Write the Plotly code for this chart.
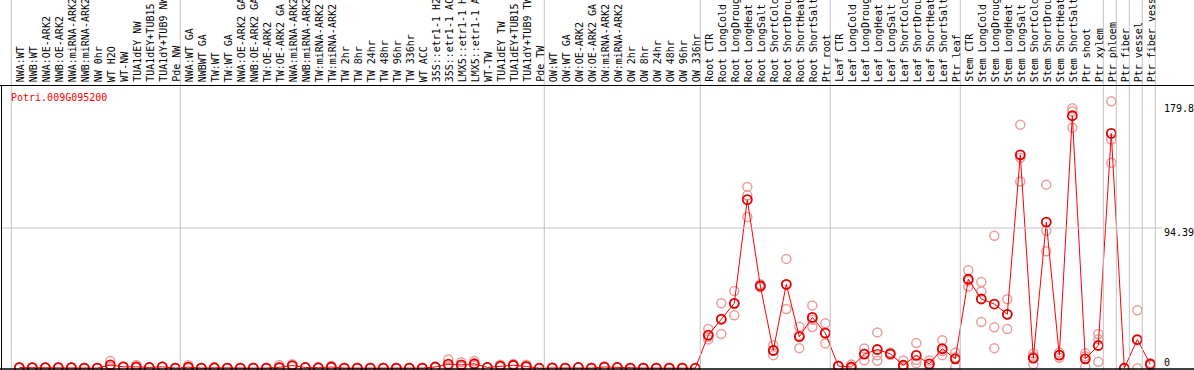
import plotly.graph_objects as go

W, H = 1194, 370

labels = [
    "NWA:WT", "NWB:WT", "NWA:OE-ARK2", "NWB:OE-ARK2", "NWA:miRNA-ARK2", "NWB:miRNA-ARK2",
    "NW 0hr", "WT H2O", "WT-NW", "TUA1dEY NW", "TUA1dEY+TUB15 NW", "TUA1dY+TUB9 NW", "Pde NW",
    "NWA:WT GA", "NWBWT GA", "TW:WT", "TW:WT GA", "NWA:OE-ARK2 GA", "NWB:OE-ARK2 GA",
    "TW:OE-ARK2", "TW:OE-ARK2 GA", "NWA:miRNA-ARK2 GA", "NWB:miRNA-ARK2 GA", "TW:miRNA-ARK2",
    "TW:miRNA-ARK2 GA", "TW 2hr", "TW 8hr", "TW 24hr", "TW 48hr", "TW 96hr", "TW 336hr",
    "WT ACC", "35S::etr1-1 H2O", "35S::etr1-1 ACC", "LMX5::etr1-1 H2O", "LMX5::etr1-1 ACC",
    "WT-TW", "TUA1dEY TW", "TUA1dEY+TUB15 TW", "TUA1dY+TUB9 TW", "Pde TW",
    "OW:WT", "OW:WT GA", "OW:OE-ARK2", "OW:OE-ARK2 GA", "OW:miRNA-ARK2", "OW:miRNA-ARK2 GA",
    "OW 2hr", "OW 8hr", "OW 24hr", "OW 48hr", "OW 96hr", "OW 336hr",
    "Root CTR", "Root LongCold", "Root LongDrought", "Root LongHeat", "Root LongSalt",
    "Root ShortCold", "Root ShortDrought", "Root ShortHeat", "Root ShortSalt", "Ptr root",
    "Leaf CTR", "Leaf LongCold", "Leaf LongDrought", "Leaf LongHeat", "Leaf LongSalt",
    "Leaf ShortCold", "Leaf ShortDrought", "Leaf ShortHeat", "Leaf ShortSalt", "Ptr leaf",
    "Stem CTR", "Stem LongCold", "Stem LongDrought", "Stem LongHeat", "Stem LongSalt",
    "Stem ShortCold", "Stem ShortDrought", "Stem ShortHeat", "Stem ShortSalt", "Ptr shoot",
    "Ptr xylem", "Ptr phloem", "Ptr fiber", "Ptr vessel", "Ptr fiber vessel",
]

# first index of each sample group (vertical separators)
group_starts = [0, 13, 41, 53, 63, 73, 84, 85, 86, 87]

means = [
    0.4, 0.4, 0.4, 0.4, 0.4, 0.1, 0.1, 2.2, 0.9, 0.9, 0.5, 0.9, 0.1,
    0.7, 0.1, 0.3, 0.1, 0.1, 0.1, 0.1, 0.6, 1.8, 0.5, 0.3, 0.8, 0.1, 0.1,
    0.1, 0.1, 0.1, 0.1, 0.1, 0.8, 2.7, 2.2, 3.0, 0.5, 1.4, 2.0, 1.2, 0.0,
    0.2, 0.1, 0.5, 0.1, 0.8, 0.5, 0.1, 0.1, 0.1, 0.1, 0.1, 0.0,
    22.3, 33.1, 43.7, 113.5, 55.4, 12.0, 56.5, 21.2, 34.2, 23.6,
    1.4, 0.8, 9.5, 12.6, 9.7, 2.0, 8.6, 2.9, 13.1, 6.3,
    59.9, 46.6, 43.2, 36.3, 143.7, 6.8, 98.4, 8.8, 170.0, 6.3, 15.3,
    158.1, 0.0, 19.3, 2.7,
]

rep1 = [
    0.3, 0.3, 0.3, 0.3, 0.3, 0.1, 0.1, 4.9, 0.9, 2.2, 0.5, 0.9, 0.1,
    2.0, 0.1, 0.3, 0.1, 0.1, 0.1, 0.1, 2.2, 2.6, 0.5, 0.3, 1.5, 0.1, 0.1,
    0.1, 0.1, 0.1, 0.1, 0.1, 0.8, 5.9, 4.0, 4.9, 0.5, 2.4, 2.8, 2.4, 0.0,
    0.2, 0.1, 0.5, 0.1, 0.8, 0.5, 0.1, 0.1, 0.1, 0.1, 0.1, 0.0,
    26.4, 43.7, 52.0, 122.1, 56.5, 15.5, 73.6, 27.9, 42.3, 30.2,
    1.2, 2.5, 13.3, 24.1, 10.5, 5.2, 16.9, 5.2, 18.9, 10.6,
    66.0, 58.1, 89.2, 46.4, 164.0, 9.9, 123.6, 10.5, 175.0, 10.0, 23.0,
    179.8, 0.0, 39.0, 3.5,
]

rep2 = [
    0.5, 0.5, 0.5, 0.5, 0.5, 0.1, 0.1, 1.0, 0.9, 0.4, 0.5, 0.9, 0.1,
    0.1, 0.1, 0.3, 0.1, 0.1, 0.1, 0.1, 0.0, 1.5, 0.5, 0.3, 0.5, 0.1, 0.1,
    0.1, 0.1, 0.1, 0.1, 0.1, 0.8, 1.5, 1.5, 2.5, 0.5, 1.0, 1.8, 0.7, 0.0,
    0.2, 0.1, 0.5, 0.1, 0.8, 0.5, 0.1, 0.1, 0.1, 0.1, 0.1, 0.0,
    19.4, 23.0, 35.6, 101.8, 54.5, 8.8, 39.9, 13.5, 27.7, 16.7,
    1.6, 0.0, 5.4, 5.0, 9.0, 0.4, 3.4, 1.8, 8.8, 0.9,
    55.0, 51.6, 27.5, 26.4, 141.7, 2.7, 92.6, 7.0, 173.0, 0.9, 19.5,
    154.0, 0.0, 0.0, 2.0,
]

rep3 = [
    0.4, 0.4, 0.4, 0.4, 0.4, 0.1, 0.1, 0.8, 0.9, 0.2, 0.5, 0.9, 0.1,
    0.1, 0.1, 0.3, 0.1, 0.1, 0.1, 0.1, 0.0, 1.3, 0.5, 0.3, 0.4, 0.1, 0.1,
    0.1, 0.1, 0.1, 0.1, 0.1, 0.8, 0.8, 1.1, 1.6, 0.5, 0.8, 1.4, 0.5, 0.0,
    0.2, 0.1, 0.5, 0.1, 0.8, 0.5, 0.1, 0.1, 0.1, 0.1, 0.1, 0.0,
    21.1, 32.6, 43.5, 116.4, 55.2, 11.7, 56.0, 22.2, 32.6, 23.9,
    1.4, 0.0, 9.8, 8.7, 9.6, 0.4, 5.5, 1.7, 11.6, 7.4,
    58.7, 31.1, 13.5, 36.1, 125.7, 7.8, 78.8, 8.9, 162.0, 8.0, 4.3,
    138.3, 0.0, 18.9, 2.6,
]

gene = "Potri.009G095200"
tick_vals = [179.8, 94.39, 0]
tick_text = ["179.8", "94.39", "0"]

# ---- geometry helpers ----
X0PX, STEP = 19.3, 13.0          # pixel of first point and spacing
ZERO_PX, PX_PER_UNIT = 368.2, 1.485
x_range = [-X0PX / STEP, (W - X0PX) / STEP]
y_range = [-(H - ZERO_PX) / PX_PER_UNIT, ZERO_PX / PX_PER_UNIT]


def py(p):
    return 1 - p / H


def px(p):
    return p / W


FONT = "DejaVu Sans Mono"
xs = list(range(len(labels)))

fig = go.Figure()

pink = "#ec9c9c"
for reps in (rep1, rep2, rep3):
    fig.add_trace(go.Scatter(
        x=xs, y=reps, mode="markers", hoverinfo="skip",
        marker=dict(symbol="circle-open", size=9, color=pink, line=dict(width=1.5, color=pink)),
    ))

fig.add_trace(go.Scatter(
    x=xs, y=means, mode="lines+markers",
    line=dict(color="#ff0000", width=1),
    marker=dict(symbol="circle-open", size=9, color="#e00000", line=dict(width=1.8, color="#e00000")),
))

shapes = []
# vertical group separators
seps = [g - 8 / STEP for g in group_starts] + [group_starts[-1] + 5 / STEP]
for s in seps:
    shapes.append(dict(type="line", xref="x", yref="paper", x0=s, x1=s, y0=0, y1=1,
                       line=dict(color="#c4c4c4", width=1)))
# horizontal grid at middle tick
shapes.append(dict(type="line", xref="paper", yref="y", x0=px(1), x1=px(1162),
                   y0=tick_vals[1], y1=tick_vals[1], line=dict(color="#c4c4c4", width=1)))
# black frame lines
shapes.append(dict(type="line", xref="paper", yref="paper", x0=0, x1=1, y0=py(85.5), y1=py(85.5),
                   line=dict(color="black", width=1)))
shapes.append(dict(type="line", xref="paper", yref="paper", x0=0, x1=1, y0=py(369), y1=py(369),
                   line=dict(color="black", width=1.5)))
shapes.append(dict(type="line", xref="paper", yref="paper", x0=px(1.5), x1=px(1.5), y0=py(85), y1=py(370),
                   line=dict(color="black", width=1)))

annotations = []
for i, lab in enumerate(labels):
    annotations.append(dict(x=i, xref="x", y=py(84), yref="paper", text=lab, textangle=-90,
                            xanchor="center", yanchor="bottom", showarrow=False, xshift=1,
                            font=dict(family=FONT, size=10, color="black")))
annotations.append(dict(x=px(9), xref="paper", y=py(97), yref="paper", text=gene,
                        xanchor="left", yanchor="middle", showarrow=False,
                        font=dict(family=FONT, size=10, color="#ff0000")))
shifts = [-7, -4, 6]
for v, t, sh in zip(tick_vals, tick_text, shifts):
    annotations.append(dict(x=px(1162), xref="paper", y=v, yref="y", yshift=sh, text=t,
                            xanchor="left", yanchor="middle", showarrow=False,
                            font=dict(family=FONT, size=10, color="black")))

fig.update_layout(
    width=W, height=H, margin=dict(l=0, r=0, t=0, b=0),
    paper_bgcolor="white", plot_bgcolor="white", showlegend=False,
    xaxis=dict(range=x_range, visible=False, fixedrange=True),
    yaxis=dict(range=y_range, visible=False, fixedrange=True),
    shapes=shapes, annotations=annotations,
)

fig.write_html("out.html", config={"displayModeBar": False},
               post_script="document.body.style.margin='0';document.body.style.overflow='hidden';")
